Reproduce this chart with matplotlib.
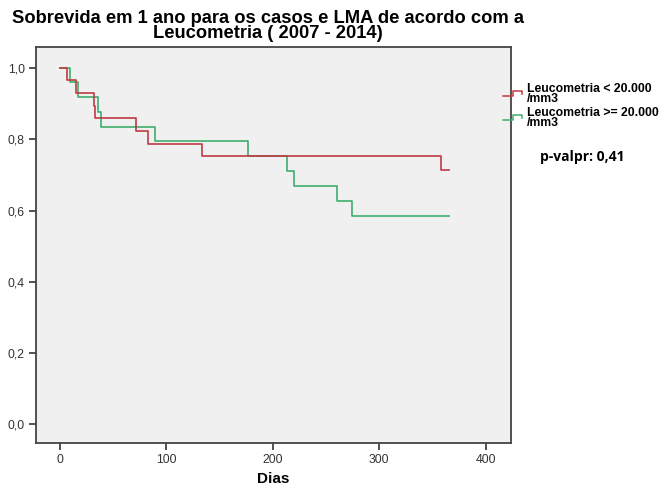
import matplotlib
matplotlib.use("Agg")
import matplotlib.pyplot as plt
from matplotlib.lines import Line2D

plt.rcParams['font.family'] = ['Liberation Sans', 'DejaVu Sans']

# Kaplan-Meier estimates, one year follow-up
dias_baixa = [0, 7, 15, 32, 33, 71, 83, 133, 358, 365]
surv_baixa = [1.0, 0.966, 0.931, 0.893, 0.859, 0.824, 0.788, 0.753, 0.715, 0.715]

dias_alta = [0, 9, 17, 36, 39, 89, 177, 213, 220, 260, 274, 365]
surv_alta = [1.0, 0.96, 0.919, 0.876, 0.835, 0.795, 0.753, 0.711, 0.669, 0.628, 0.586, 0.586]

grupos = ["Leucometria < 20.000\n/mm3", "Leucometria >= 20.000\n/mm3"]
x_ticks = [0, 100, 200, 300, 400]
y_ticks = [0.0, 0.2, 0.4, 0.6, 0.8, 1.0]
p_valor = "p-valpr: 0,41"

cor_baixa = '#c13a42'
cor_alta = '#3fae6b'

W, H = 666, 488
fig = plt.figure(figsize=(W / 100, H / 100), dpi=100)
ax = fig.add_axes([0.054, 0.092, 0.713, 0.8115])
ax.set_facecolor('#f0f0f0')

ax.step(dias_alta, surv_alta, where='post', color=cor_alta, lw=1.2)
ax.step(dias_baixa, surv_baixa, where='post', color=cor_baixa, lw=1.2)

ax.set_xlim(-22.5, 423.5)
ax.set_ylim(-0.053, 1.059)
ax.set_xticks(x_ticks)
ax.set_xticklabels([str(t) for t in x_ticks])
ax.set_yticks(y_ticks)
ax.set_yticklabels([f"{t:.1f}".replace('.', ',') for t in y_ticks])
ax.tick_params(direction='out', length=5, width=1.2, colors='#333333', labelsize=8.8, pad=3)
for sp in ax.spines.values():
    sp.set_color('#444444')
    sp.set_linewidth(1.3)

fig.text(273 / W, 1 - 479 / H, "Dias", ha='center', va='center', fontsize=11, fontweight='bold')
fig.text(268 / W, 1 - 10 / H, "Sobrevida em 1 ano para os casos e LMA de acordo com a\nLeucometria ( 2007 - 2014)",
         ha='center', va='top', fontsize=13.2, fontweight='bold', linespacing=0.85)

# legend outside the axes: small step icons plus labels
def icone(y0, cor):
    xs = [503, 513, 513, 522, 522]
    ys = [y0 + 3, y0 + 3, y0 - 2, y0 - 2, y0 + 1]
    fig.add_artist(Line2D([x / W for x in xs], [1 - y / H for y in ys],
                          color=cor, lw=1.1, transform=fig.transFigure))

icone(93, cor_baixa)
icone(117, cor_alta)
fig.text(527 / W, 1 - 83 / H, grupos[0], ha='left', va='top', fontsize=8.8,
         fontweight='bold', linespacing=0.8)
fig.text(527 / W, 1 - 107 / H, grupos[1], ha='left', va='top', fontsize=8.8,
         fontweight='bold', linespacing=0.8)
fig.text(540 / W, 1 - 157 / H, p_valor, ha='left', va='center', fontsize=10,
         fontweight='bold', family=['Open Sans', 'DejaVu Sans'])

fig.savefig("out.png", dpi=100)
